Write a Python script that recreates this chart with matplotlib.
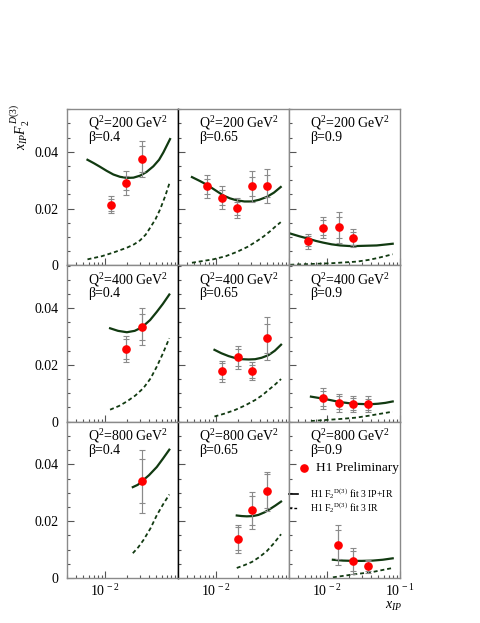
import numpy as np
import matplotlib
matplotlib.use('Agg')
import matplotlib.pyplot as plt
from matplotlib.ticker import MultipleLocator, LogLocator, FuncFormatter, NullFormatter
from matplotlib.lines import Line2D

plt.rcParams['font.family'] = ['Liberation Serif', 'DejaVu Serif']
plt.rcParams['mathtext.fontset'] = 'custom'
plt.rcParams['mathtext.rm'] = 'Liberation Serif'
plt.rcParams['mathtext.it'] = 'Liberation Serif:italic'

# Q2 per row, beta per column
q2_values = [200, 400, 800]
beta_values = ['0.4', '0.65', '0.9']

# H1 data points, panels in row order (Q2=200: b=0.4,0.65,0.9; Q2=400 ...; Q2=800 ...)
pts_x = [
    [0.0121, 0.0194, 0.0321],
    [0.0076, 0.0122, 0.0196, 0.0309, 0.0495],
    [0.0055, 0.0088, 0.0145, 0.0225],
    [0.0194, 0.0318],
    [0.0122, 0.0199, 0.0309, 0.0495],
    [0.0088, 0.0145, 0.0225, 0.0361],
    [0.0318],
    [0.0199, 0.0309, 0.0495],
    [0.0143, 0.0225, 0.0361],
]
pts_y = [
    [0.0214, 0.0290, 0.0375],
    [0.0278, 0.0238, 0.0201, 0.0278, 0.0281],
    [0.0085, 0.0132, 0.0134, 0.0095],
    [0.0256, 0.0335],
    [0.0177, 0.0226, 0.0178, 0.0294],
    [0.0082, 0.0067, 0.0062, 0.0061],
    [0.0341],
    [0.0138, 0.0238, 0.0305],
    [0.0117, 0.0059, 0.0041],
]
err_stat = [
    [0.0021, 0.0025, 0.0045],
    [0.0027, 0.0026, 0.0023, 0.0035, 0.0039],
    [0.0018, 0.0026, 0.0037, 0.0023],
    [0.0035, 0.0046],
    [0.0028, 0.0029, 0.0023, 0.0051],
    [0.0026, 0.0024, 0.0020, 0.0020],
    [0.0078],
    [0.0040, 0.0051, 0.0060],
    [0.0051, 0.0036, 0.0017],
]
err_tot = [
    [0.0030, 0.0041, 0.0063],
    [0.0039, 0.0041, 0.0035, 0.0056, 0.0060],
    [0.0026, 0.0037, 0.0054, 0.0032],
    [0.0047, 0.0064],
    [0.0038, 0.0042, 0.0032, 0.0076],
    [0.0036, 0.0032, 0.0028, 0.0028],
    [0.0111],
    [0.0049, 0.0066, 0.0068],
    [0.0071, 0.0047, 0.0023],
]

# fit 3 IP+IR (solid)
fit_x = [
    [0.00573, 0.0070, 0.00855, 0.0105, 0.0130, 0.0160, 0.0199, 0.0245, 0.0302, 0.0370, 0.0459, 0.055, 0.063, 0.0778],
    [0.00466, 0.0059, 0.00746, 0.0097, 0.0126, 0.0155, 0.0192, 0.0245, 0.0309, 0.039, 0.0495, 0.062, 0.077],
    [0.00312, 0.0042, 0.0055, 0.0070, 0.0088, 0.0115, 0.0151, 0.020, 0.0256, 0.035, 0.048, 0.062, 0.0794],
    [0.0117, 0.0150, 0.0199, 0.0255, 0.0318, 0.0414, 0.0512, 0.062, 0.076],
    [0.0095, 0.0118, 0.0148, 0.0183, 0.0225, 0.028, 0.0343, 0.042, 0.0521, 0.064, 0.0778],
    [0.0060, 0.0088, 0.0115, 0.0148, 0.0185, 0.0225, 0.030, 0.038, 0.050, 0.063, 0.0794],
    [0.0240, 0.0280, 0.0318, 0.040, 0.0512, 0.062, 0.076],
    [0.0192, 0.0225, 0.0264, 0.032, 0.038, 0.046, 0.055, 0.065, 0.0778],
    [0.0120, 0.0165, 0.0225, 0.030, 0.0423, 0.058, 0.0794],
]
fit_y = [
    [0.0372, 0.0360, 0.0347, 0.0333, 0.0320, 0.0312, 0.0308, 0.0309, 0.0316, 0.0329, 0.0349, 0.0372, 0.0398, 0.0445],
    [0.0311, 0.0298, 0.0284, 0.0265, 0.0246, 0.0236, 0.0229, 0.0225, 0.0225, 0.0231, 0.0241, 0.0256, 0.0276],
    [0.0112, 0.0102, 0.0094, 0.0086, 0.0080, 0.0074, 0.0070, 0.0068, 0.0068, 0.0069, 0.0070, 0.0073, 0.0076],
    [0.0329, 0.0320, 0.0315, 0.0320, 0.0332, 0.0358, 0.0387, 0.0415, 0.0448],
    [0.0253, 0.0241, 0.0231, 0.0224, 0.0220, 0.0219, 0.0220, 0.0225, 0.0234, 0.0250, 0.0271],
    [0.0088, 0.0081, 0.0075, 0.0069, 0.0066, 0.0063, 0.0062, 0.0061, 0.0063, 0.0066, 0.0071],
    [0.0320, 0.0328, 0.0340, 0.0362, 0.0391, 0.0420, 0.0452],
    [0.0220, 0.0218, 0.0217, 0.0218, 0.0222, 0.0231, 0.0243, 0.0255, 0.0269],
    [0.0064, 0.0061, 0.0060, 0.0060, 0.0061, 0.0064, 0.0069],
]

# fit 3 IR (dashed)
ir_x = [
    [0.00573, 0.0090, 0.0130, 0.0199, 0.0250, 0.0302, 0.036, 0.0414, 0.049, 0.0568, 0.067, 0.0778],
    [0.00466, 0.0091, 0.0135, 0.0192, 0.027, 0.0361, 0.045, 0.055, 0.066, 0.077],
    [0.00312, 0.0110, 0.0256, 0.037, 0.048, 0.062, 0.0794],
    [0.0117, 0.0155, 0.0199, 0.0260, 0.0335, 0.042, 0.0512, 0.062, 0.076],
    [0.0095, 0.0130, 0.0182, 0.025, 0.0343, 0.043, 0.0521, 0.064, 0.0778],
    [0.0060, 0.0148, 0.025, 0.038, 0.055, 0.0794],
    [0.0240, 0.0285, 0.0335, 0.042, 0.0512, 0.062, 0.076],
    [0.0192, 0.0245, 0.0309, 0.039, 0.0495, 0.062, 0.0778],
    [0.0120, 0.0165, 0.0225, 0.030, 0.0423, 0.058, 0.0794],
]
ir_y = [
    [0.0021, 0.0032, 0.0045, 0.0062, 0.0074, 0.0088, 0.0108, 0.0132, 0.0162, 0.0197, 0.0245, 0.0296],
    [0.0009, 0.0021, 0.0032, 0.0047, 0.0065, 0.0085, 0.0102, 0.0120, 0.0138, 0.0152],
    [0.0002, 0.0007, 0.0013, 0.0019, 0.0025, 0.0032, 0.0039],
    [0.0042, 0.0055, 0.0071, 0.0092, 0.0118, 0.0152, 0.0194, 0.0240, 0.0294],
    [0.0018, 0.0028, 0.0041, 0.0057, 0.0076, 0.0093, 0.0111, 0.0130, 0.0150],
    [0.0002, 0.0009, 0.0014, 0.0021, 0.0028, 0.0035],
    [0.0087, 0.0108, 0.0133, 0.0175, 0.0221, 0.0258, 0.0294],
    [0.0035, 0.0045, 0.0056, 0.0073, 0.0094, 0.0122, 0.0154],
    [0.0002, 0.0007, 0.0012, 0.0016, 0.0021, 0.0028, 0.0035],
]

W_PX, H_PX = 481, 623
fig = plt.figure(figsize=(W_PX / 100, H_PX / 100), dpi=100)

left0 = 67 / W_PX
pw = 111 / W_PX
top0 = 1 - 109 / H_PX
ph = 156.3 / H_PX

curve_col = '#113a11'
err_col = '#8a8a8a'
frame_col = '#8a8a8a'


def xfmt(col):
    def f(v, pos):
        e = int(round(np.log10(v)))
        if e == -2 or (e == -1 and col == 2):
            return r'$10^{\,%d}$' % e
        return ''
    return f


for i in range(9):
    r, c = divmod(i, 3)
    ax = fig.add_axes([left0 + c * pw, top0 - (r + 1) * ph, pw, ph])
    ax.set_xscale('log')
    ax.set_xlim(0.003, 0.1)
    ax.set_ylim(0, 0.0551)

    ax.plot(ir_x[i], ir_y[i], color=curve_col, lw=1.3, dashes=(2.2, 1.6), zorder=2)
    ax.plot(fit_x[i], fit_y[i], color=curve_col, lw=1.6, zorder=2)
    ax.errorbar(pts_x[i], pts_y[i], yerr=err_tot[i], fmt='none', ecolor=err_col,
                elinewidth=0.8, capsize=2.2, capthick=0.8, zorder=3)
    ax.errorbar(pts_x[i], pts_y[i], yerr=err_stat[i], fmt='none', ecolor=err_col,
                elinewidth=0.8, capsize=2.2, capthick=0.8, zorder=3)
    ax.plot(pts_x[i], pts_y[i], 'o', color='#ff0000', ms=5.2, mec='#ff0000', zorder=4)

    ax.text(0.19, 0.88, 'Q$^2$=%d GeV$^2$' % q2_values[r], transform=ax.transAxes,
            fontsize=10, va='baseline')
    ax.text(0.19, 0.795, 'β=%s' % beta_values[c], transform=ax.transAxes,
            fontsize=10, va='baseline')

    # ticks
    ax.yaxis.set_major_locator(MultipleLocator(0.02))
    ax.yaxis.set_minor_locator(MultipleLocator(0.005))
    ax.xaxis.set_major_locator(LogLocator(base=10))
    ax.xaxis.set_minor_locator(LogLocator(base=10, subs=np.arange(2, 10)))
    ax.tick_params(which='both', direction='in', top=False, right=False,
                   color='#555555', labelsize=10)
    ax.tick_params(which='major', length=5, width=0.8)
    ax.tick_params(which='minor', length=2.5, width=0.8)
    ax.tick_params(axis='y', pad=6)
    ax.tick_params(axis='x', pad=4)
    ax.xaxis.set_minor_formatter(NullFormatter())
    if c == 0:
        ax.yaxis.set_major_formatter(FuncFormatter(lambda v, p: '0' if v == 0 else '%.2f' % v))
    else:
        ax.tick_params(axis='y', labelleft=False)
    if r == 2:
        ax.xaxis.set_major_formatter(FuncFormatter(xfmt(c)))
    else:
        ax.tick_params(axis='x', labelbottom=False)

    for s in ax.spines.values():
        s.set_color(frame_col)
        s.set_linewidth(1.0)
    if c == 0:
        ax.spines['right'].set_color('black')
    if c == 1:
        ax.spines['left'].set_color('black')

    if i == 8:
        # legend, drawn by hand in ROOT style
        ax.add_line(Line2D([0.135], [0.70], marker='o', color='#ff0000', ms=5.2,
                           transform=ax.transAxes, clip_on=False))
        ax.text(0.245, 0.70, 'H1 Preliminary', transform=ax.transAxes,
                fontsize=9.6, va='center')
        ax.add_line(Line2D([0.0, 0.08], [0.537, 0.537], color='black', lw=1.2,
                           transform=ax.transAxes, clip_on=False))
        ax.text(0.19, 0.537, r'H1 F$_{2}{}^{\rm D(3)}$ fit 3 IP+IR', transform=ax.transAxes,
                fontsize=7, va='center')
        ax.add_line(Line2D([0.0, 0.08], [0.448, 0.448], color='black', lw=1.0,
                           dashes=(2, 1.5), transform=ax.transAxes, clip_on=False))
        ax.text(0.19, 0.448, r'H1 F$_{2}{}^{\rm D(3)}$ fit 3 IR', transform=ax.transAxes,
                fontsize=7, va='center')

fig.text(20 / W_PX, 1 - 104 / H_PX, r'$x_{IP}F_2^{\,D(3)}$', rotation=90,
         ha='center', va='top', fontsize=10)
fig.text(402 / W_PX, 1 - 600 / H_PX, r'$x_{IP}$', ha='right', va='top', fontsize=10)

fig.savefig('out.png', dpi=100)
